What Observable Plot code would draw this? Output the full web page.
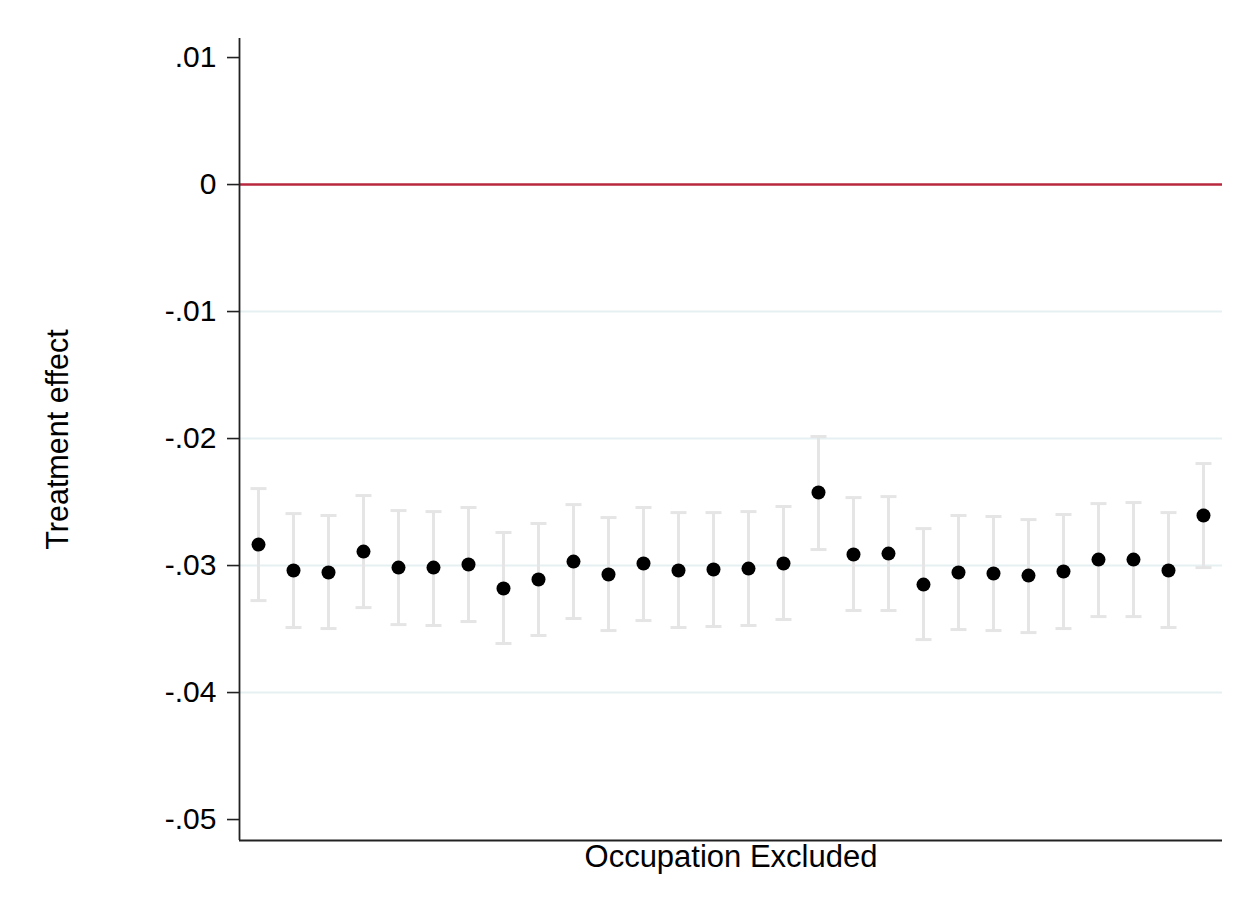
<!DOCTYPE html>
<html>
<head>
<meta charset="utf-8">
<script src="https://cdn.jsdelivr.net/npm/d3@7"></script>
<script src="https://cdn.jsdelivr.net/npm/@observablehq/plot@0.6"></script>
<style>
  html, body { margin: 0; padding: 0; background: #fff; }
  #chart svg { display: block; }
</style>
</head>
<body>
<div id="chart"></div>
<script>
// Occupation excluded (index), point estimates and 95% CI bounds
const occupation = d3.range(1, 29);
const estimate = [-0.02835, -0.03039, -0.03055, -0.02890, -0.03016, -0.03016, -0.02992, -0.03181,
  -0.03110, -0.02969, -0.03071, -0.02984, -0.03039, -0.03031, -0.03024, -0.02984,
  -0.02425, -0.02913, -0.02906, -0.03150, -0.03055, -0.03063, -0.03079, -0.03047,
  -0.02953, -0.02953, -0.03039, -0.02606];
const ciUpper = [-0.02394, -0.02591, -0.02606, -0.02449, -0.02567, -0.02575, -0.02543, -0.02740,
  -0.02669, -0.02520, -0.02622, -0.02543, -0.02583, -0.02583, -0.02575, -0.02535,
  -0.01984, -0.02465, -0.02457, -0.02709, -0.02606, -0.02614, -0.02638, -0.02598,
  -0.02512, -0.02504, -0.02583, -0.02197];
const ciLower = [-0.03276, -0.03488, -0.03496, -0.03331, -0.03465, -0.03472, -0.03441, -0.03614,
  -0.03551, -0.03417, -0.03512, -0.03433, -0.03488, -0.03480, -0.03472, -0.03425,
  -0.02874, -0.03354, -0.03354, -0.03583, -0.03504, -0.03512, -0.03528, -0.03496,
  -0.03402, -0.03402, -0.03488, -0.03016];

const yTicks = [0.01, 0, -0.01, -0.02, -0.03, -0.04, -0.05];
const yTickLabels = [".01", "0", "-.01", "-.02", "-.03", "-.04", "-.05"];
const gridTicks = [-0.01, -0.02, -0.03, -0.04];
const refLine = [0];

const xDomain = [0.457, 28.543];
const yDomain = [-0.05165, 0.0115];

const rows = occupation.map((o, i) => ({o, est: estimate[i], lo: ciLower[i], hi: ciUpper[i]}));

const font = "'Liberation Sans', Arial, Helvetica, sans-serif";

// horizontal cap symbol for error bars
const capSymbol = {
  draw(context, size) {
    const r = Math.sqrt(size / Math.PI);
    context.moveTo(-r, 0);
    context.lineTo(r, 0);
  }
};

const barColor = "#e5e5e5";

const chart = Plot.plot({
  width: 1250,
  height: 907,
  marginLeft: 239,
  marginRight: 28,
  marginTop: 38,
  marginBottom: 67,
  style: {fontFamily: font, background: "#fff", color: "#111"},
  x: {domain: xDomain, axis: null},
  y: {domain: yDomain, axis: null},
  marks: [
    Plot.gridY(gridTicks, {stroke: "#e6eff1", strokeOpacity: 1, strokeWidth: 2}),
    Plot.ruleY(refLine, {stroke: "#b8273e", strokeWidth: 2.6}),
    Plot.ruleX(rows, {x: "o", y1: "lo", y2: "hi", stroke: barColor, strokeWidth: 3}),
    Plot.dot(rows, {x: "o", y: "lo", symbol: capSymbol, r: 8, stroke: barColor, strokeWidth: 3, fill: "none"}),
    Plot.dot(rows, {x: "o", y: "hi", symbol: capSymbol, r: 8, stroke: barColor, strokeWidth: 3, fill: "none"}),
    Plot.dot(rows, {x: "o", y: "est", r: 7, fill: "#000", stroke: "none"}),
    Plot.axisY({
      ticks: yTicks,
      tickFormat: (d) => yTickLabels[yTicks.indexOf(d)],
      tickSize: 12,
      tickPadding: 11,
      fontSize: 30,
      strokeWidth: 1.6,
      stroke: "#222",
      fill: "#000",
      label: null
    }),
    Plot.ruleX([xDomain[0]], {stroke: "#222", strokeWidth: 1.8}),
    Plot.ruleY([yDomain[0]], {stroke: "#222", strokeWidth: 2}),
    Plot.text(["Occupation Excluded"], {frameAnchor: "bottom", lineAnchor: "middle", textAnchor: "middle", dy: 17, fontSize: 31, fill: "#000"}),
    Plot.text(["Treatment effect"], {frameAnchor: "left", lineAnchor: "middle", textAnchor: "middle", dx: -181, rotate: -90, fontSize: 30.5, fill: "#000"})
  ]
});

document.getElementById("chart").appendChild(chart);
</script>
</body>
</html>
